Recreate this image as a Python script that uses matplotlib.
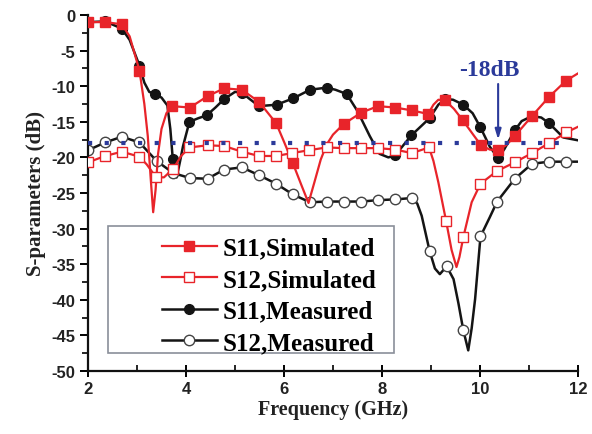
import matplotlib
matplotlib.use("Agg")
import matplotlib.pyplot as plt
from matplotlib.patches import Rectangle
import numpy as np

plt.rcParams['axes.unicode_minus'] = False

# ---------------- data ----------------
s11_sim_f = [2.00, 2.35, 2.69, 2.85, 3.05, 3.15, 3.22, 3.28, 3.33, 3.38, 3.43, 3.50, 3.60, 3.72,
             4.08, 4.44, 4.78, 5.14, 5.49, 5.84, 6.00, 6.18, 6.35, 6.50, 6.62, 6.75, 6.87, 7.00,
             7.22, 7.58, 7.92, 8.27, 8.61, 8.94, 9.05, 9.15, 9.29, 9.47, 9.65, 9.85, 10.02, 10.20,
             10.37, 10.55, 10.71, 11.06, 11.41, 11.76, 12.00]
s11_sim_db = [-1.0, -1.0, -1.3, -3.0, -7.8, -12.5, -17.0, -23.0, -27.7, -24.5, -19.5, -16.0, -13.8, -12.8,
              -13.0, -11.4, -10.3, -10.5, -12.2, -15.2, -17.8, -20.8, -23.8, -26.4, -23.5, -20.3, -18.2, -16.8,
              -15.3, -13.7, -12.8, -13.0, -13.4, -13.9, -12.6, -11.9, -12.0, -13.2, -14.8, -16.7, -18.3, -18.9,
              -19.0, -18.2, -17.0, -14.2, -11.5, -9.2, -8.2]
s11_sim_marks = [0, 1, 2, 4, 13, 14, 15, 16, 17, 18, 19, 21, 28, 29, 30, 31, 32, 33, 36, 38, 40, 42,
                 44, 45, 46, 47]

s12_sim_f = [2.00, 2.35, 2.69, 3.05, 3.20, 3.39, 3.55, 3.74, 3.90, 4.07, 4.44, 4.78, 5.14, 5.49,
             5.84, 6.16, 6.50, 6.87, 7.22, 7.58, 7.92, 8.27, 8.61, 8.96, 9.05, 9.15, 9.31, 9.42,
             9.52, 9.58, 9.66, 9.83, 10.01, 10.35, 10.71, 11.06, 11.41, 11.76, 12.00]
s12_sim_db = [-20.7, -19.8, -19.2, -19.9, -21.0, -22.8, -22.8, -21.6, -19.8, -18.6, -18.3, -18.4, -19.2, -19.8,
              -19.8, -19.4, -19.0, -18.6, -18.7, -18.7, -18.7, -18.9, -19.4, -18.6, -20.5, -23.5, -29.0, -33.0,
              -35.4, -34.0, -31.2, -26.3, -23.7, -21.9, -20.7, -19.4, -18.0, -16.5, -15.7]
s12_sim_marks = [0, 1, 2, 3, 5, 7, 9, 10, 11, 12, 13, 14, 15, 16, 17, 18, 19, 20, 21, 22, 23, 26,
                 30, 32, 33, 34, 35, 36, 37]

s11_meas_f = [2.00, 2.35, 2.69, 2.85, 3.05, 3.15, 3.25, 3.37, 3.50, 3.62, 3.68, 3.73, 3.81, 3.88,
              3.94, 4.07, 4.25, 4.42, 4.60, 4.78, 5.00, 5.14, 5.30, 5.49, 5.85, 6.19, 6.53, 6.87,
              7.05, 7.28, 7.50, 7.75, 7.95, 8.13, 8.27, 8.60, 8.97, 9.15, 9.29, 9.45, 9.66, 9.85,
              10.01, 10.20, 10.37, 10.50, 10.71, 10.85, 11.06, 11.25, 11.41, 11.70, 12.00]
s11_meas_db = [-1.0, -0.9, -1.9, -3.5, -7.1, -9.5, -10.8, -11.1, -11.6, -12.7, -16.0, -20.2, -22.8, -20.5,
               -18.4, -15.0, -14.5, -14.1, -13.0, -11.8, -10.8, -10.9, -11.8, -12.8, -12.6, -11.7, -10.5, -10.2,
               -10.5, -11.1, -13.5, -17.0, -19.5, -20.0, -19.7, -16.9, -14.5, -12.6, -11.8, -11.9, -12.6, -13.8,
               -15.8, -18.5, -20.1, -18.8, -16.2, -14.9, -14.2, -14.4, -15.2, -17.2, -17.6]
s11_meas_marks = [0, 1, 2, 4, 7, 11, 15, 17, 19, 21, 23, 24, 25, 26, 27, 29, 34, 35, 36, 38, 40,
                  42, 44, 46, 48, 50]

s12_meas_f = [2.00, 2.35, 2.69, 3.05, 3.40, 3.74, 4.08, 4.44, 4.78, 5.14, 5.49, 5.84, 6.18, 6.53,
              6.87, 7.22, 7.58, 7.92, 8.27, 8.62, 8.72, 8.81, 8.97, 9.08, 9.18, 9.32, 9.46, 9.56,
              9.66, 9.76, 9.83, 9.90, 10.01, 10.20, 10.35, 10.71, 11.06, 11.41, 11.76, 12.00]
s12_meas_db = [-19.0, -17.9, -17.1, -17.9, -20.5, -22.2, -22.9, -23.0, -21.7, -21.4, -22.5, -23.7, -25.2, -26.3,
               -26.2, -26.2, -26.2, -26.0, -25.9, -25.7, -26.5, -28.2, -33.1, -35.6, -36.4, -35.3, -37.1, -40.5,
               -44.3, -47.1, -44.0, -39.9, -31.1, -28.4, -26.2, -23.0, -20.9, -20.6, -20.6, -20.6]
s12_meas_marks = [0, 1, 2, 3, 4, 5, 6, 7, 8, 9, 10, 11, 12, 13, 14, 15, 16, 17, 18, 19, 22, 25,
                  28, 32, 34, 35, 36, 37, 38]

ref_level = -18
ref_f = [2.0, 11.8]
arrow_f = 10.37
arrow_from = -9.3
label_pos = (10.2, -7.6)

labels = ['S11,Simulated', 'S12,Simulated', 'S11,Measured', 'S12,Measured']

xticks = [2, 4, 6, 8, 10, 12]
yticks = [0, -5, -10, -15, -20, -25, -30, -35, -40, -45, -50]

# ---------------- style ----------------
RED = '#e8242a'
BLK = '#141414'
BLUE = '#2b3a9a'
serif = ['Liberation Serif', 'DejaVu Serif']
sans = ['Liberation Sans', 'DejaVu Sans']

fig = plt.figure(figsize=(5.92, 4.35), dpi=100)
ax = fig.add_axes([88/592, 1-372/435, 490/592, 356/435])

# reference line
ax.plot(ref_f, [ref_level, ref_level], color=BLUE, lw=3.0, ls=(0, (1.0, 3.0)),
        dash_capstyle='butt', zorder=4)

l1, = ax.plot(s11_sim_f, s11_sim_db, color=RED, lw=1.6, marker='s', ms=6.5, mfc=RED, mec=RED,
              markevery=s11_sim_marks, label=labels[0], zorder=3)
l2, = ax.plot(s12_sim_f, s12_sim_db, color=RED, lw=1.6, marker='s', ms=6.5, mfc='white', mec=RED,
              mew=1.0, markevery=s12_sim_marks, label=labels[1], zorder=3)
l3, = ax.plot(s11_meas_f, s11_meas_db, color=BLK, lw=1.8, marker='o', ms=7, mfc=BLK, mec=BLK,
              markevery=s11_meas_marks, label=labels[2], zorder=2)
l4, = ax.plot(s12_meas_f, s12_meas_db, color=BLK, lw=1.8, marker='o', ms=7.5, mfc='white', mec='#444444',
              mew=1.0, markevery=s12_meas_marks, label=labels[3], zorder=2)

# annotation
ax.annotate('', xy=(arrow_f, ref_level + 0.1), xytext=(arrow_f, arrow_from),
            arrowprops=dict(arrowstyle='-|>,head_length=0.6,head_width=0.18', color=BLUE, lw=1.5),
            zorder=5)
ax.text(label_pos[0], label_pos[1], '-18dB', color=BLUE, fontsize=17, fontweight='bold',
        family=serif, ha='center', va='center', zorder=5)

ax.set_xlim(2, 12)
ax.set_ylim(-50, 0)
ax.set_xticks(xticks)
ax.set_yticks(yticks)
ax.set_xticks(np.arange(3, 12, 2), minor=True)
ax.set_yticks(np.arange(-47.5, 0, 5), minor=True)
for s in ['top', 'right']:
    ax.spines[s].set_visible(False)
for s in ['left', 'bottom']:
    ax.spines[s].set_linewidth(1.6)
    ax.spines[s].set_color('#111111')

ax.tick_params(axis='y', which='major', direction='out', length=6, width=1.4, pad=3)
ax.tick_params(axis='y', which='minor', direction='out', length=4, width=1.2)
ax.tick_params(axis='x', which='major', direction='inout', length=9, width=1.4, pad=3)
ax.tick_params(axis='x', which='minor', direction='in', length=4, width=1.2)
for lab in ax.get_xticklabels() + ax.get_yticklabels():
    lab.set_fontfamily(sans)
    lab.set_fontweight('bold')
    lab.set_fontsize(12)
    lab.set_color('#222222')

ax.set_xlabel('Frequency (GHz)', fontsize=14.5, fontweight='bold', family=serif, labelpad=2,
              color='#222222')
ax.set_ylabel('S-parameters (dB)', fontsize=15, fontweight='bold', family=serif, labelpad=4,
              color='#222222')

# legend box
rect = Rectangle((108/592, 1-354/435), 286/592, 127/435, transform=fig.transFigure,
                 facecolor='white', edgecolor='#8a8f99', lw=1.2, zorder=10)
fig.patches.append(rect)
leg = fig.legend(handles=[l1, l2, l3, l4], loc='upper left',
                 bbox_to_anchor=(149/592, 1-225/435), bbox_transform=fig.transFigure,
                 frameon=False, borderpad=0, handlelength=2.2, handletextpad=0.25,
                 labelspacing=0.34, numpoints=1,
                 prop=dict(family=serif, weight='bold', size=18))
leg.set_zorder(11)
for h in leg.legend_handles:
    h.set_markevery([1])

fig.savefig('out.png', dpi=100)
